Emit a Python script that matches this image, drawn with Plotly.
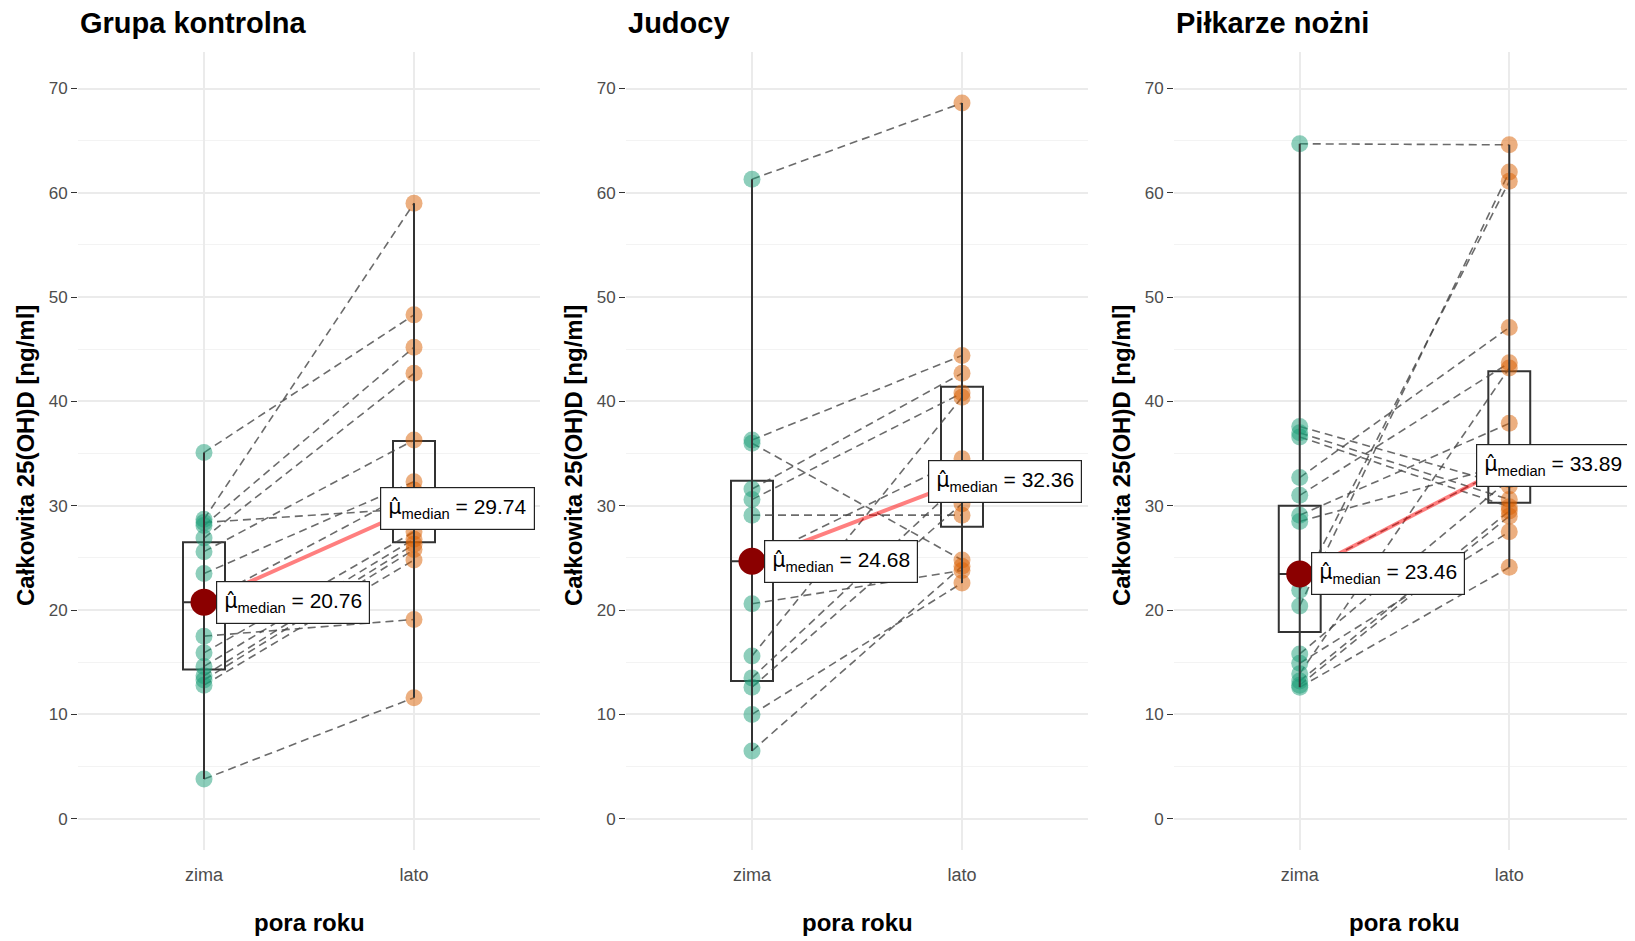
import plotly.graph_objects as go

# ---------------- data ----------------
panel_titles = ["Grupa kontrolna", "Judocy", "Piłkarze nożni"]
season_labels = ["zima", "lato"]
y_title = "Całkowita 25(OH)D [ng/ml]"
x_title = "pora roku"

# paired observations (zima[i] -> lato[i])
kontrolna_zima = [35.1, 28.7, 28.4, 28.1, 26.9, 25.6, 23.5, 20.76, 17.5, 15.9, 14.6, 13.7, 13.3, 12.8, 3.8]
kontrolna_lato = [48.3, 59.0, 29.74, 45.2, 42.7, 36.3, 32.3, 31.5, 19.1, 27.5, 26.8, 26.3, 25.8, 24.8, 11.6]

judocy_zima = [61.3, 36.3, 36.0, 31.6, 30.6, 29.1, 24.68, 20.6, 15.6, 13.5, 12.6, 10.0, 6.5]
judocy_lato = [68.6, 44.4, 24.8, 42.7, 40.8, 29.1, 34.5, 23.8, 40.4, 32.36, 30.2, 22.6, 24.2]

pilkarze_zima = [64.7, 37.6, 37.0, 36.6, 32.7, 31.0, 29.1, 28.5, 23.46, 21.9, 20.4, 15.8, 14.9, 13.9, 13.2, 12.8, 12.6]
pilkarze_lato = [64.6, 31.9, 30.6, 29.9, 47.1, 43.7, 37.9, 34.0, 33.89, 61.1, 62.0, 32.5, 27.5, 43.2, 29.5, 29.0, 24.1]

# box statistics: [q1, median, q3]
kontrolna_box_zima = [14.3, 20.76, 26.5]
kontrolna_box_lato = [26.5, 29.74, 36.2]
judocy_box_zima = [13.2, 24.68, 32.4]
judocy_box_lato = [28.0, 32.36, 41.4]
pilkarze_box_zima = [17.9, 23.46, 30.0]
pilkarze_box_lato = [30.3, 33.89, 42.9]

# medians shown in labels
median_labels = [["20.76", "29.74"], ["24.68", "32.36"], ["23.46", "33.89"]]

panels = [
    (kontrolna_zima, kontrolna_lato, kontrolna_box_zima, kontrolna_box_lato),
    (judocy_zima, judocy_lato, judocy_box_zima, judocy_box_lato),
    (pilkarze_zima, pilkarze_lato, pilkarze_box_zima, pilkarze_box_lato),
]

# ---------------- style ----------------
OFF = 8                      # page body margin
W, H = 1635 - OFF, 941 - OFF  # figure size


def px(xp):
    return (xp - OFF) / W


def py(yp):
    return 1 - (yp - OFF) / H


FONT = "Liberation Sans, Arial, sans-serif"
teal = "rgba(27,158,119,0.5)"
orange = "rgba(217,95,2,0.5)"
dash_col = "rgba(70,70,70,0.8)"
grid_major = "#EBEBEB"
grid_minor = "#F3F3F3"

x_domains = [(px(78), px(540)), (px(626), px(1088)), (px(1174), 1.0)]
y_domain = (py(850), py(52))
y_range = [-3.0, 73.5]
x_range = [0.4, 2.6]
XPOS = [1, 2]

fig = go.Figure()
layout = dict(
    width=W, height=H,
    margin=dict(l=0, r=0, t=0, b=0),
    paper_bgcolor="white", plot_bgcolor="white",
    showlegend=False,
    font=dict(family=FONT),
)

mu_hat = '<span style="font-family:DejaVu Sans">μ̂</span>'

annotations = []
for i, (zima, lato, bz, bl) in enumerate(panels):
    sfx = "" if i == 0 else str(i + 1)
    xa, ya = "x" + sfx, "y" + sfx

    # dashed paired lines
    for a, b in zip(zima, lato):
        fig.add_trace(go.Scatter(
            x=XPOS, y=[a, b], mode="lines", xaxis=xa, yaxis=ya,
            line=dict(color=dash_col, width=1.6, dash="8px,5px"),
            hoverinfo="skip"))

    # points
    fig.add_trace(go.Scatter(
        x=[XPOS[0]] * len(zima), y=zima, mode="markers", xaxis=xa, yaxis=ya,
        marker=dict(size=17, color=teal, line=dict(width=0))))
    fig.add_trace(go.Scatter(
        x=[XPOS[1]] * len(lato), y=lato, mode="markers", xaxis=xa, yaxis=ya,
        marker=dict(size=17, color=orange, line=dict(width=0))))

    # whisker lines (min to max)
    for xp, vals in zip(XPOS, (zima, lato)):
        fig.add_trace(go.Scatter(
            x=[xp, xp], y=[min(vals), max(vals)], mode="lines", xaxis=xa, yaxis=ya,
            line=dict(color="#333333", width=2), hoverinfo="skip"))

    # boxes
    for xp, st in zip(XPOS, (bz, bl)):
        fig.add_trace(go.Box(
            x=[xp], q1=[st[0]], median=[st[1]], q3=[st[2]],
            lowerfence=[st[0]], upperfence=[st[2]],
            width=0.2, whiskerwidth=0, xaxis=xa, yaxis=ya,
            fillcolor="rgba(0,0,0,0)", line=dict(color="#333333", width=2),
            boxpoints=False, hoverinfo="skip"))

    # median connecting line + dots
    meds = [bz[1], bl[1]]
    fig.add_trace(go.Scatter(
        x=XPOS, y=meds, mode="lines", xaxis=xa, yaxis=ya,
        line=dict(color="rgba(255,0,0,0.5)", width=4), hoverinfo="skip"))
    fig.add_trace(go.Scatter(
        x=XPOS, y=meds, mode="markers", xaxis=xa, yaxis=ya,
        marker=dict(size=27, color="#8B0000"), hoverinfo="skip"))

    # median labels
    for xp, m, lab in zip((1.055, 1.84), meds, median_labels[i]):
        annotations.append(dict(
            x=xp, y=m, xref=xa, yref=ya, xanchor="left", yanchor="middle",
            text=mu_hat + "<sub>median</sub> = " + lab, showarrow=False,
            font=dict(family=FONT, size=21, color="black"),
            bgcolor="white", bordercolor="#222222", borderwidth=1.2, borderpad=7))

    # axes
    layout["xaxis" + sfx] = dict(
        domain=x_domains[i], range=x_range, anchor=ya,
        tickvals=XPOS, ticktext=season_labels,
        ticks="outside", ticklen=8, tickcolor="rgba(0,0,0,0)",
        tickfont=dict(family=FONT, size=18, color="#4D4D4D"),
        showgrid=True, gridcolor=grid_major, gridwidth=2,
        zeroline=False, showline=False)
    layout["yaxis" + sfx] = dict(
        domain=y_domain, range=y_range, anchor=xa,
        tickvals=[0, 10, 20, 30, 40, 50, 60, 70],
        ticks="outside", ticklen=6, tickcolor="#333333", tickwidth=1.2,
        tickfont=dict(family=FONT, size=17, color="#4D4D4D"),
        showgrid=True, gridcolor=grid_major, gridwidth=2,
        minor=dict(tickvals=[5, 15, 25, 35, 45, 55, 65], showgrid=True,
                   gridcolor=grid_minor, gridwidth=1.2, ticks=""),
        zeroline=False, showline=False)

    x0p = [78, 626, 1174][i]
    x1p = [540, 1088, 1635][i]
    # panel title
    annotations.append(dict(
        x=px(x0p), y=py(23), xref="paper", yref="paper", xanchor="left", yanchor="middle",
        text="<b>" + panel_titles[i] + "</b>", showarrow=False,
        font=dict(family=FONT, size=29, color="black")))
    # x title
    annotations.append(dict(
        x=px((x0p + x1p) / 2), y=py(922), xref="paper", yref="paper",
        xanchor="center", yanchor="middle",
        text="<b>" + x_title + "</b>", showarrow=False,
        font=dict(family=FONT, size=24, color="black")))
    # y title
    annotations.append(dict(
        x=px(x0p - 52), y=py(456), xref="paper", yref="paper",
        xanchor="center", yanchor="middle", textangle=-90,
        text="<b>" + y_title + "</b>", showarrow=False,
        font=dict(family=FONT, size=24, color="black")))

layout["annotations"] = annotations
fig.update_layout(**layout)
fig.write_html("out.html")
